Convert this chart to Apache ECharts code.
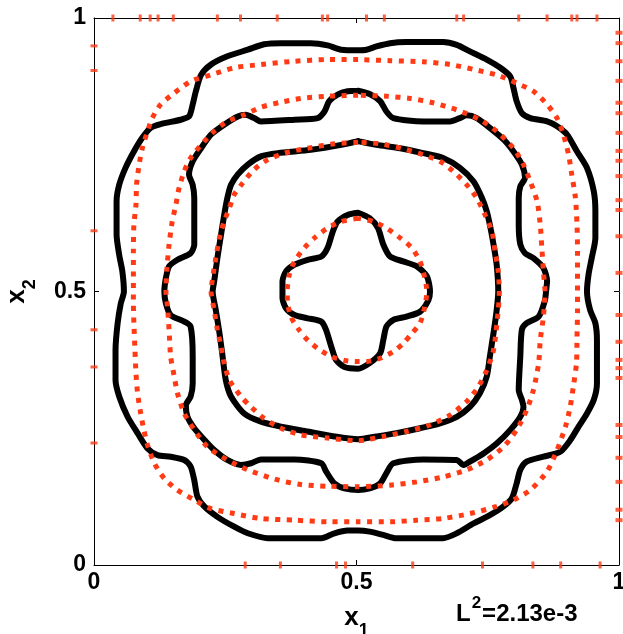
<!DOCTYPE html>
<html>
<head>
<meta charset="utf-8">
<script src="https://cdn.jsdelivr.net/npm/echarts@6/dist/echarts.min.js"></script>
<style>
html,body{margin:0;padding:0;background:#fff;}
#chart{width:623px;height:634px;}
</style>
</head>
<body>
<div id="chart"></div>
<script>
// ---- axis ticks ----
var tickValues = [0, 0.5, 1];

// ---- black (solid) contours, [x1, x2] ----
var blackOuter = [[0.503,0.941],[0.471,0.942],[0.445,0.950],[0.413,0.954],[0.356,0.954],[0.324,0.952],[0.293,0.942],[0.254,0.930],[0.223,0.915],[0.204,0.896],[0.194,0.866],[0.188,0.842],[0.181,0.820],[0.165,0.814],[0.127,0.806],[0.108,0.799],[0.092,0.781],[0.076,0.756],[0.060,0.726],[0.048,0.695],[0.043,0.665],[0.043,0.604],[0.048,0.567],[0.054,0.537],[0.057,0.500],
 [0.051,0.478],[0.045,0.442],[0.041,0.393],[0.041,0.338],[0.048,0.308],[0.064,0.271],[0.083,0.241],[0.102,0.213],[0.121,0.201],[0.146,0.198],[0.172,0.192],[0.184,0.180],[0.191,0.155],[0.197,0.125],[0.210,0.107],[0.235,0.088],[0.267,0.070],[0.293,0.058],[0.331,0.049],[0.433,0.049],[0.458,0.058],[0.483,0.063],[0.503,0.063],
 [0.525,0.061],[0.551,0.055],[0.576,0.049],[0.665,0.049],[0.691,0.058],[0.723,0.076],[0.754,0.091],[0.780,0.107],[0.796,0.122],[0.805,0.149],[0.812,0.174],[0.824,0.189],[0.856,0.198],[0.888,0.207],[0.907,0.228],[0.923,0.253],[0.939,0.277],[0.952,0.302],[0.958,0.332],[0.958,0.411],[0.955,0.442],[0.945,0.466],[0.939,0.500],
 [0.942,0.531],[0.948,0.561],[0.955,0.598],[0.955,0.647],[0.952,0.683],[0.939,0.726],[0.920,0.756],[0.901,0.787],[0.882,0.802],[0.863,0.811],[0.831,0.817],[0.815,0.826],[0.805,0.848],[0.799,0.872],[0.793,0.893],[0.774,0.909],[0.748,0.924],[0.716,0.939],[0.691,0.951],[0.665,0.956],[0.595,0.956],[0.564,0.954],[0.538,0.948],[0.519,0.942],[0.503,0.941]];

var blackSecond = [[0.503,0.867],[0.483,0.866],[0.464,0.860],[0.448,0.848],[0.439,0.829],[0.426,0.817],[0.382,0.814],[0.318,0.811],[0.305,0.817],[0.289,0.823],[0.274,0.820],[0.248,0.805],[0.223,0.787],[0.204,0.762],[0.188,0.738],[0.181,0.714],[0.188,0.695],[0.191,0.671],[0.191,0.634],[0.191,0.586],[0.184,0.570],[0.159,0.558],[0.143,0.546],[0.137,0.525],[0.134,0.500],
 [0.137,0.478],[0.146,0.457],[0.172,0.445],[0.184,0.436],[0.188,0.381],[0.188,0.332],[0.184,0.308],[0.175,0.292],[0.178,0.271],[0.191,0.250],[0.210,0.229],[0.229,0.210],[0.254,0.192],[0.280,0.183],[0.299,0.186],[0.318,0.193],[0.382,0.193],[0.433,0.186],[0.442,0.171],[0.458,0.149],[0.477,0.140],[0.503,0.137],
 [0.525,0.140],[0.545,0.149],[0.557,0.168],[0.570,0.186],[0.627,0.193],[0.691,0.192],[0.704,0.183],[0.716,0.189],[0.742,0.204],[0.767,0.222],[0.793,0.247],[0.812,0.271],[0.818,0.289],[0.815,0.302],[0.809,0.320],[0.812,0.381],[0.815,0.430],[0.824,0.442],[0.847,0.454],[0.859,0.484],[0.861,0.500],
 [0.863,0.519],[0.856,0.543],[0.837,0.561],[0.821,0.570],[0.812,0.586],[0.809,0.622],[0.809,0.671],[0.812,0.692],[0.821,0.708],[0.815,0.732],[0.799,0.756],[0.780,0.778],[0.754,0.799],[0.729,0.817],[0.710,0.822],[0.697,0.817],[0.678,0.811],[0.627,0.811],[0.570,0.817],[0.557,0.829],[0.545,0.848],[0.525,0.861],[0.503,0.867]];

var blackThird = [[0.503,0.775],[0.471,0.768],[0.413,0.759],[0.350,0.753],[0.318,0.747],[0.293,0.732],[0.274,0.714],[0.261,0.695],[0.254,0.671],[0.248,0.640],[0.242,0.604],[0.235,0.561],[0.229,0.519],[0.226,0.500],
 [0.232,0.466],[0.239,0.424],[0.245,0.381],[0.251,0.338],[0.261,0.308],[0.286,0.277],[0.318,0.262],[0.356,0.253],[0.407,0.244],[0.458,0.235],[0.503,0.230],
 [0.538,0.235],[0.576,0.241],[0.621,0.250],[0.659,0.259],[0.691,0.271],[0.716,0.289],[0.735,0.314],[0.748,0.344],[0.754,0.381],[0.761,0.424],[0.767,0.466],[0.770,0.500],
 [0.767,0.549],[0.761,0.586],[0.754,0.622],[0.748,0.647],[0.739,0.671],[0.723,0.701],[0.697,0.726],[0.665,0.744],[0.627,0.753],[0.583,0.762],[0.538,0.768],[0.503,0.775]];

var blackInner = [[0.503,0.644],[0.483,0.640],[0.464,0.628],[0.455,0.610],[0.445,0.580],[0.433,0.564],[0.407,0.558],[0.382,0.549],[0.366,0.537],[0.359,0.519],[0.359,0.500],
 [0.359,0.488],[0.366,0.469],[0.382,0.457],[0.407,0.451],[0.433,0.445],[0.442,0.430],[0.452,0.399],[0.461,0.375],[0.477,0.362],[0.503,0.359],
 [0.525,0.369],[0.545,0.387],[0.551,0.411],[0.557,0.436],[0.570,0.448],[0.595,0.454],[0.621,0.463],[0.637,0.484],[0.640,0.500],
 [0.634,0.528],[0.615,0.546],[0.589,0.555],[0.564,0.564],[0.551,0.586],[0.541,0.616],[0.525,0.634],[0.503,0.644]];

// ---- red (dotted) contours ----
var redOuter = [[0.503,0.924],[0.445,0.924],[0.382,0.921],[0.318,0.915],[0.267,0.909],[0.223,0.896],[0.184,0.884],[0.153,0.863],[0.127,0.842],[0.111,0.817],[0.102,0.793],[0.092,0.762],[0.086,0.732],[0.081,0.695],[0.080,0.659],[0.076,0.622],[0.075,0.573],[0.075,0.537],[0.075,0.500],
 [0.075,0.478],[0.076,0.442],[0.078,0.393],[0.080,0.350],[0.083,0.314],[0.089,0.277],[0.095,0.247],[0.102,0.219],[0.115,0.186],[0.134,0.158],[0.159,0.137],[0.191,0.119],[0.223,0.103],[0.267,0.094],[0.318,0.085],[0.382,0.082],[0.445,0.079],[0.503,0.079],
 [0.564,0.079],[0.615,0.082],[0.665,0.085],[0.716,0.094],[0.767,0.107],[0.799,0.119],[0.831,0.137],[0.863,0.171],[0.882,0.210],[0.898,0.253],[0.907,0.289],[0.913,0.326],[0.919,0.369],[0.920,0.417],[0.921,0.466],[0.921,0.500],
 [0.921,0.537],[0.921,0.573],[0.920,0.622],[0.917,0.671],[0.910,0.714],[0.904,0.750],[0.894,0.787],[0.882,0.817],[0.863,0.842],[0.837,0.866],[0.805,0.881],[0.767,0.896],[0.723,0.906],[0.678,0.915],[0.627,0.920],[0.564,0.922],[0.503,0.924]];

var redSecond = [[0.503,0.859],[0.445,0.857],[0.394,0.853],[0.356,0.846],[0.318,0.837],[0.286,0.823],[0.254,0.811],[0.229,0.793],[0.204,0.768],[0.184,0.744],[0.172,0.720],[0.162,0.689],[0.156,0.659],[0.149,0.628],[0.143,0.586],[0.139,0.543],[0.137,0.500],
 [0.140,0.472],[0.143,0.430],[0.146,0.381],[0.153,0.344],[0.159,0.314],[0.172,0.277],[0.191,0.247],[0.216,0.216],[0.254,0.192],[0.293,0.174],[0.344,0.157],[0.394,0.147],[0.445,0.144],[0.503,0.143],
 [0.564,0.146],[0.615,0.152],[0.665,0.161],[0.710,0.174],[0.748,0.192],[0.780,0.216],[0.805,0.247],[0.824,0.283],[0.837,0.320],[0.847,0.369],[0.850,0.411],[0.856,0.454],[0.859,0.500],
 [0.856,0.537],[0.853,0.580],[0.850,0.622],[0.844,0.665],[0.831,0.701],[0.818,0.732],[0.799,0.762],[0.767,0.793],[0.735,0.814],[0.691,0.832],[0.646,0.845],[0.602,0.853],[0.557,0.857],[0.503,0.859]];

var redThird = [[0.503,0.773],[0.458,0.770],[0.407,0.762],[0.363,0.753],[0.331,0.741],[0.305,0.723],[0.283,0.698],[0.267,0.677],[0.258,0.653],[0.248,0.628],[0.239,0.598],[0.232,0.561],[0.226,0.525],[0.223,0.500],
 [0.229,0.466],[0.235,0.430],[0.242,0.399],[0.248,0.369],[0.258,0.338],[0.280,0.308],[0.299,0.289],[0.324,0.268],[0.356,0.250],[0.394,0.238],[0.445,0.232],[0.503,0.227],
 [0.551,0.235],[0.595,0.244],[0.640,0.256],[0.678,0.274],[0.710,0.299],[0.732,0.326],[0.748,0.356],[0.761,0.393],[0.770,0.466],[0.772,0.500],
 [0.770,0.537],[0.764,0.573],[0.758,0.610],[0.745,0.640],[0.729,0.671],[0.710,0.695],[0.684,0.720],[0.659,0.738],[0.627,0.750],[0.589,0.761],[0.545,0.770],[0.503,0.773]];

var redInner = [[0.503,0.634],[0.471,0.628],[0.445,0.616],[0.420,0.598],[0.401,0.580],[0.382,0.555],[0.372,0.531],[0.368,0.500],
 [0.369,0.478],[0.375,0.454],[0.388,0.433],[0.407,0.411],[0.426,0.396],[0.452,0.381],[0.477,0.374],[0.503,0.372],
 [0.519,0.372],[0.545,0.378],[0.570,0.390],[0.589,0.405],[0.605,0.423],[0.621,0.442],[0.630,0.472],[0.634,0.500],
 [0.630,0.525],[0.621,0.555],[0.605,0.580],[0.583,0.598],[0.557,0.616],[0.532,0.628],[0.503,0.634]];

// ---- small red contour fragments on the boundary ----
var edgeTopX = [0.036,0.088,0.107,0.122,0.151,0.235,0.279,0.349,0.435,0.445,0.519,0.553,0.691,0.704,0.809,0.863,0.910,0.920,0.958];
var edgeBottomX = [0.288,0.355,0.462,0.479,0.607,0.740,0.836,0.889,0.964];
var edgeLeftY = [0.949,0.904,0.611,0.430,0.362,0.223];
var edgeRightY = [0.973,0.954,0.921,0.885,0.845,0.826,0.790,0.757,0.739,0.711,0.667,0.649,0.601,0.534,0.457,0.408,0.375,0.360,0.342,0.256,0.234,0.196,0.152,0.101,0.082];

var RED = '#ff3a14';
var FONT = '"Liberation Sans", Arial, sans-serif';

function blackSeries(name, data) {
  return {name: name, type: 'line', data: data, showSymbol: false, symbol: 'none', smooth: 0.25,
    lineStyle: {color: '#000', width: 6, join: 'round', cap: 'round'}, z: 2, silent: true};
}
function redSeries(name, data) {
  return {name: name, type: 'line', data: data, showSymbol: false, symbol: 'none', smooth: 0.25,
    lineStyle: {color: RED, width: 5, type: [5, 6.5], cap: 'butt'}, z: 3, silent: true};
}
function edgeSeries(name, data, size) {
  return {name: name, type: 'scatter', data: data, symbol: 'rect', symbolSize: size,
    itemStyle: {color: RED}, clip: false, z: 4, silent: true};
}

var chart = echarts.init(document.getElementById('chart'), null, {renderer: 'canvas'});
var axisCommon = {
  type: 'value', min: tickValues[0], max: tickValues[tickValues.length - 1], interval: tickValues[1] - tickValues[0],
  splitLine: {show: false},
  axisLine: {show: true, onZero: false, lineStyle: {color: '#000', width: 1}},
  axisTick: {show: true, inside: true, length: 5, lineStyle: {color: '#000'}}
};
var labelStyle = {color: '#000', fontSize: 23, fontWeight: 'bold', fontFamily: FONT,
  showMinLabel: true, showMaxLabel: true,
  formatter: function (v) { return String(v); }};
var nameRich = {
  x: {fontSize: 26, fontWeight: 'bold', fontFamily: FONT, color: '#000'},
  s: {fontSize: 18, fontWeight: 'bold', fontFamily: FONT, color: '#000', padding: [26, 0, 0, 0]}
};

chart.setOption({
  animation: false,
  backgroundColor: '#fff',
  grid: {left: 94, right: 4, top: 18, bottom: 69, outerBoundsMode: 'none', containLabel: false},
  xAxis: [
    Object.assign({}, axisCommon, {position: 'bottom',
      axisLabel: Object.assign({}, labelStyle, {margin: 6}),
      name: '{x|x}{s|1}', nameLocation: 'middle', nameGap: 31,
      nameTextStyle: {color: '#000', rich: nameRich}}),
    Object.assign({}, axisCommon, {position: 'top', axisLabel: {show: false}})
  ],
  yAxis: [
    Object.assign({}, axisCommon, {position: 'left',
      axisLabel: Object.assign({}, labelStyle, {margin: 8}),
      name: '{x|x}{s|2}', nameLocation: 'middle', nameRotate: 90, nameGap: 55,
      nameTextStyle: {color: '#000', rich: nameRich}}),
    Object.assign({}, axisCommon, {position: 'right', axisLabel: {show: false}})
  ],
  graphic: [{
    type: 'text', left: 456, top: 595, silent: true,
    style: {
      text: '{a|L}{b|2}{a|=2.13e-3}',
      rich: {
        a: {fontSize: 24, fontWeight: 'bold', fontFamily: FONT, fill: '#000'},
        b: {fontSize: 17, fontWeight: 'bold', fontFamily: FONT, fill: '#000', padding: [0, 1, 22, 1]}
      }
    }
  }],
  series: [
    blackSeries('black 1', blackOuter),
    blackSeries('black 2', blackSecond),
    blackSeries('black 3', blackThird),
    blackSeries('black 4', blackInner),
    redSeries('red 1', redOuter),
    redSeries('red 2', redSecond),
    redSeries('red 3', redThird),
    redSeries('red 4', redInner),
    edgeSeries('edge top', edgeTopX.map(function (x) { return [x, 1]; }), [3, 7]),
    edgeSeries('edge bottom', edgeBottomX.map(function (x) { return [x, 0]; }), [3, 7]),
    edgeSeries('edge left', edgeLeftY.map(function (y) { return [0, y]; }), [7, 3]),
    edgeSeries('edge right', edgeRightY.map(function (y) { return [1, y]; }), [7, 4])
  ]
});
</script>
</body>
</html>
